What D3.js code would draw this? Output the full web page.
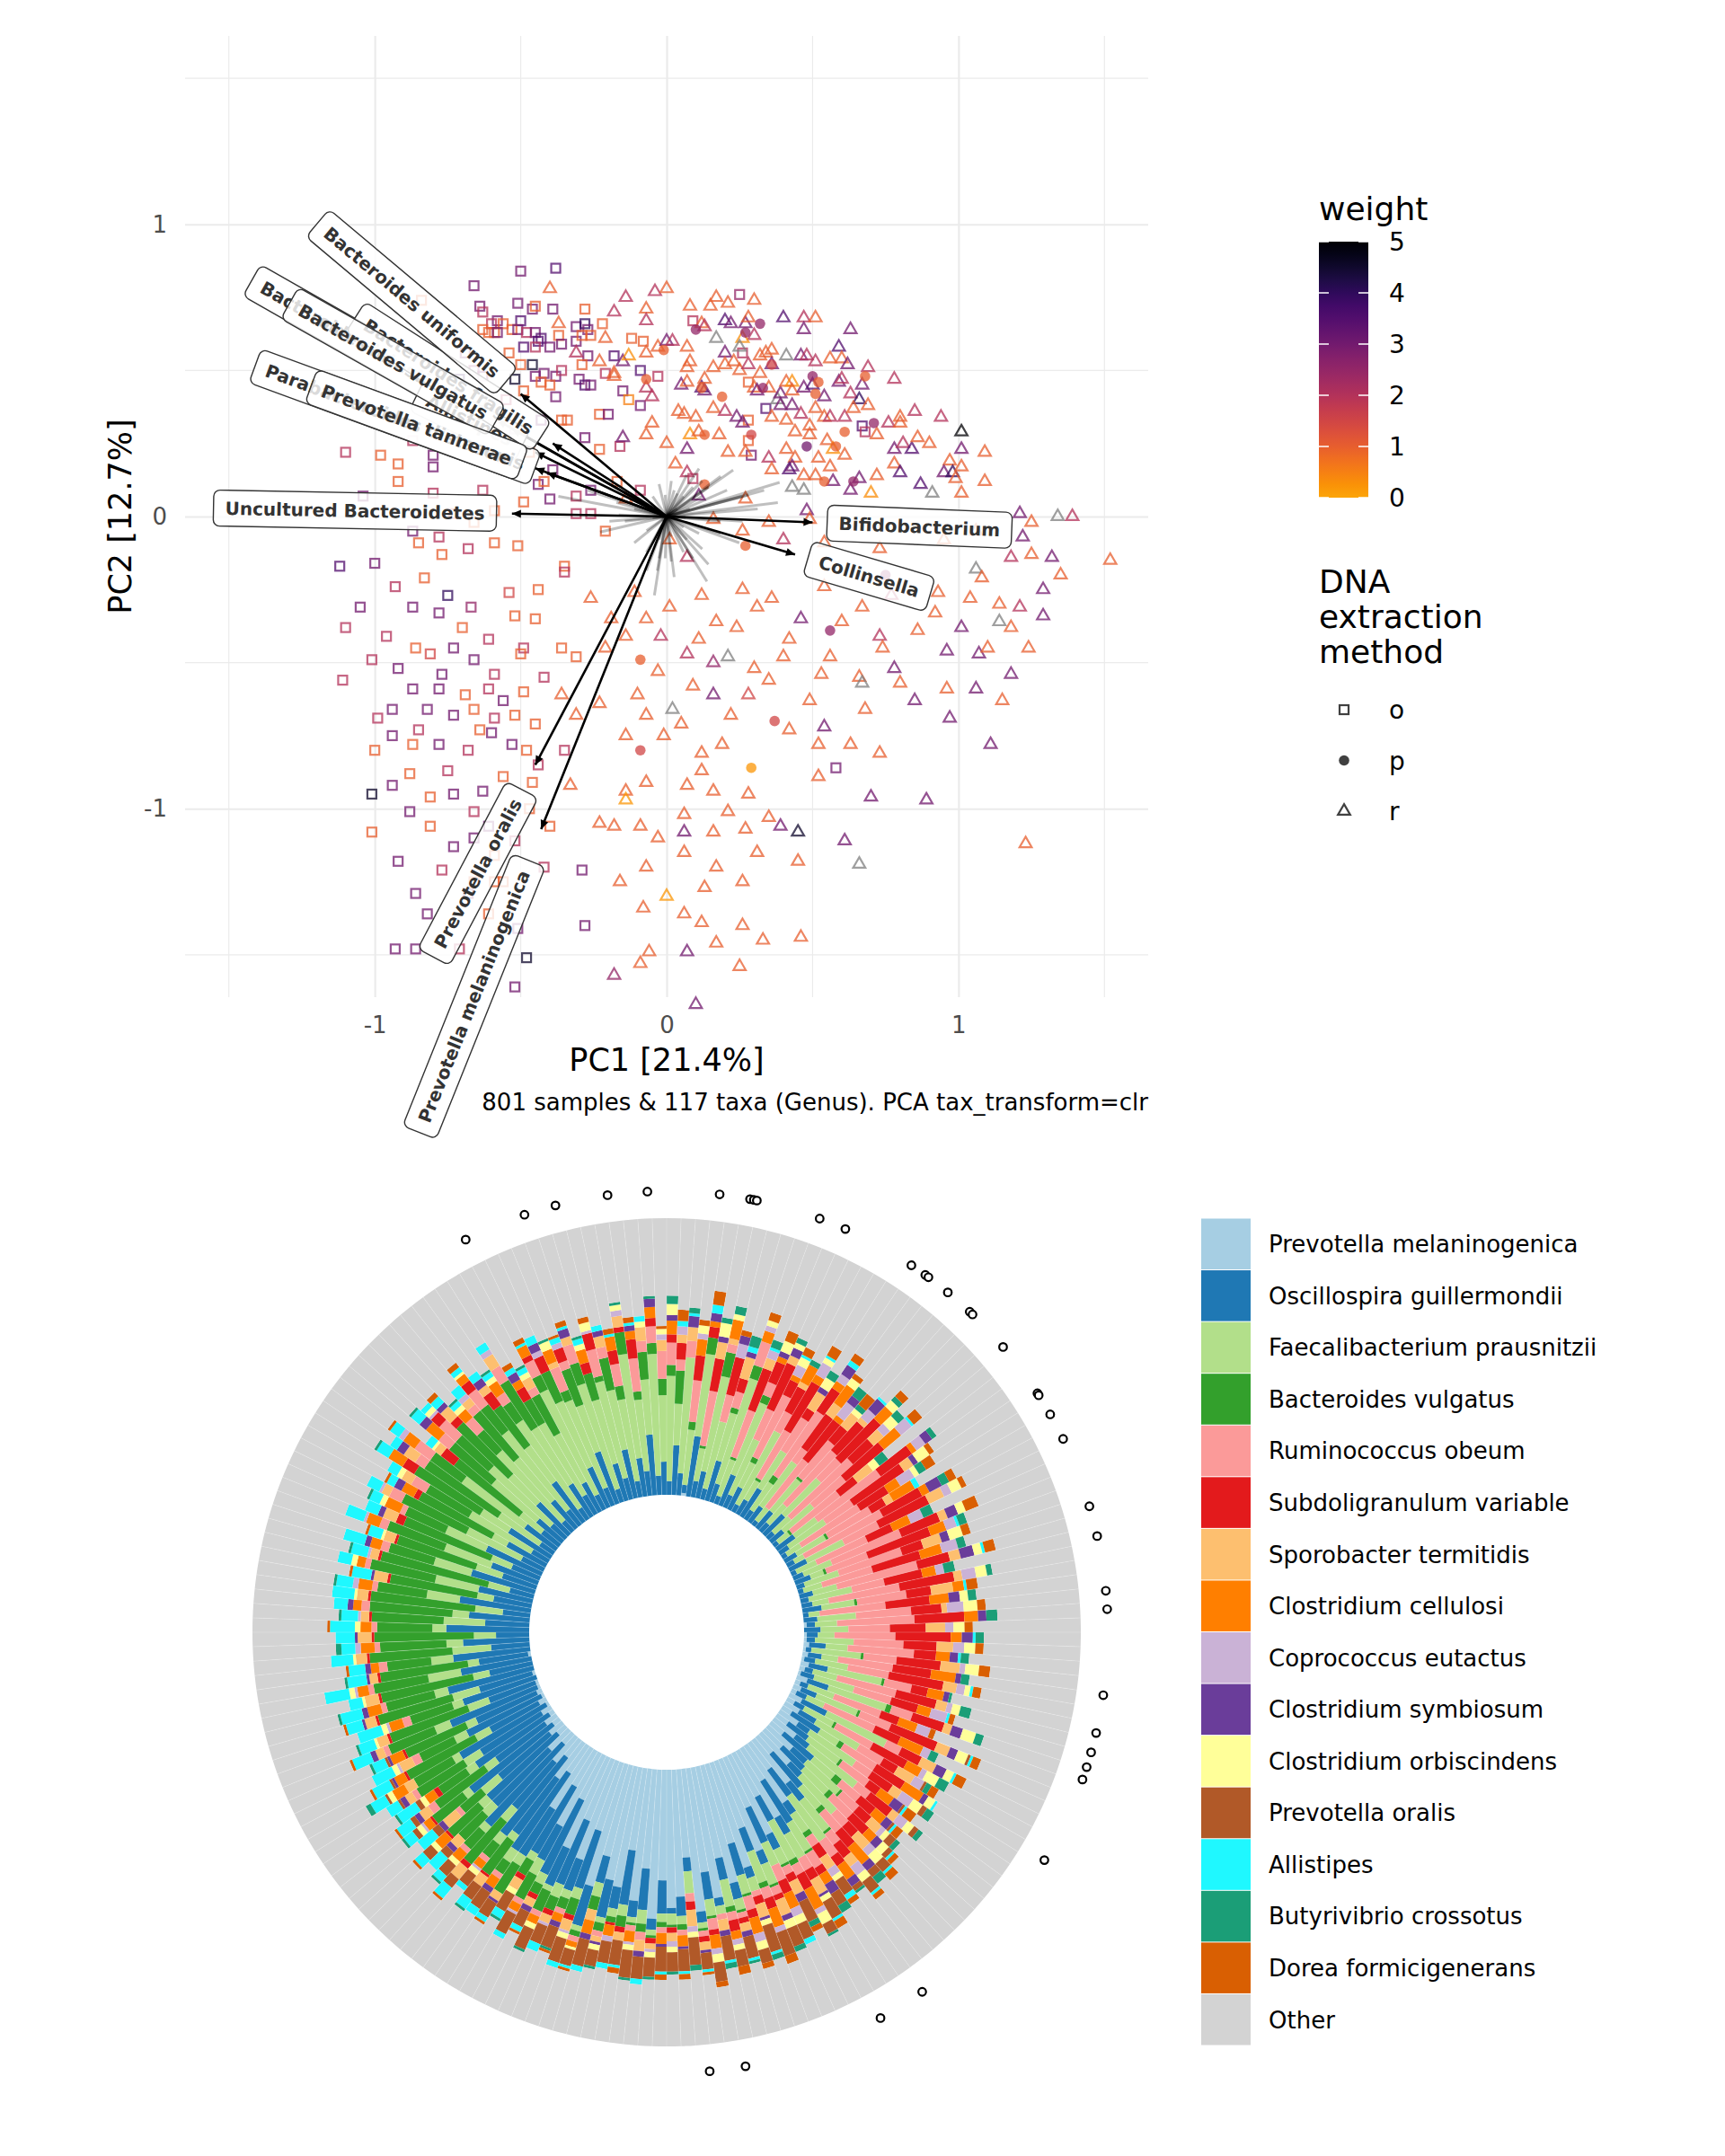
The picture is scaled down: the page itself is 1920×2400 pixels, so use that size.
<!DOCTYPE html>
<html>
<head>
<meta charset="utf-8">
<script src="https://cdn.jsdelivr.net/npm/d3@7"></script>
<style>
  body { margin: 0; background: #fff; }
  svg { display: block; font-family: "DejaVu Sans", sans-serif; }
</style>
</head>
<body>
<div id="vis-container"></div>
<script>

////////////////////////////////////
/////////////// Data ///////////////
////////////////////////////////////

// PCA sample scores (PC1 x100, PC2 x100, weight), one array per DNA extraction method
const squaresO = [
  // upper left
  [-50,84,3],[-38,85,3.5],[-66,79,3],[-64,72,3],[-63,70,2],[-51,73,3],[-46,71,3],[-45,72,1],[-39,71,3],[-28,71,1],
  [-50,67,3.5],[-58,67,3],[-56,66,1],[-60,66,2],[-31,65,3],[-28,66,4],[-27,64,3],[-22,66,1],
  [-63,64,1],[-61,63,1],[-59,63,1],[-58,63,3],[-53,64,1],[-51,64,3],[-48,63,2],[-45,63,3],[-43,61,3.5],[-44,60,3.5],
  [-40,58,3],[-37,62,1],[-36,59,3],[-31,60,3],[-29,62,1],[-26,62,1],
  [-12,61,1],[-8,60,1],[-27,55,3],[-18,55,3.5],[-9,50,3.5],[-3,48,2],[-15,43,3],[-13,40,0.5],[-9,38,3],
  [-49,58,3.5],[-45,58,2],[-54,56,1],[-50,52,1],[-46,52,4.5],[-45,48,3],[-42,49,3],[-38,48,3],[-36,50,2],[-30,47,3],
  [-28,45,3.5],[-26,45,3],[-29,52,1],[-21,49,2],
  [-43,46,1],[-40,45,1],[-38,41,3],[-49,43,1],[-52,47,4.5],[-23,35,1],[-20,35,3],[-36,33,1],[-34,33,1],[-28,27,3],
  [-23,23,1],[-16,24,2],[-80,21,3],[-80,17,3],[-87,26,2],[-92,18,1],[-39,16,3],
  [-69,56,3],[-71,47,4],[-63,48,3],[-68,38,3],[-61,35,3],[-66,31,1],[-61,26,2],[-66,50,2.5],[-84,74,1],[-78,44,3],
  [-72,30,1],[-55,40,2],[-52,30,3],[-47,22,1],[-56,20,2],[-43,33,3],
  [-110,22,2],[-98,21,1],
  // upper right
  [25,76,2.5],[9,67,2],[26,56,2],[28,46,1],[34,37,3.5],[28,33,1],[67,31,3.5],[68,29,2],[28,26,1],[29,21,3],[9,13,2],
  // middle and lower
  [-63,9,2],[-44,11,3],[-31,7,2],[-104,7,3],[-26,1,2],[-21,-5,1],
  [-42,12,1],[-26,9,3],[-17,12,1],[-9,9,2],[-49,5,1],[-40,6,3],[-31,1,2],[-59,2,1],
  [-92,12,1],[-80,8,2],[-73,1,1.5],[-87,-5,3],[-78,-7,2],[-66,-2,1],
  [-112,-17,3.5],[-100,-16,3],[-85,-9,1],[-77,-13,1],[-68,-11,2],[-59,-9,1],[-51,-10,1],[-35,-17,1],
  [-93,-24,2],[-83,-21,1],[-75,-27,4],[-67,-31,2.5],[-54,-26,1.5],[-44,-25,1],[-35,-19,2],
  [-110,-38,2],[-87,-31,3],[-78,-33,3],[-70,-38,1],[-61,-42,2],[-52,-34,1],[-45,-35,1],[-36,-45,1],
  [-49,-45,2],[-101,-49,2],[-92,-52,3],[-81,-47,1.5],[-73,-45,3],[-66,-49,3],[-59,-54,2],[-50,-47,1],[-42,-55,2],[-31,-48,1],
  [-111,-56,2],[-87,-59,3],[-78,-59,3],[-61,-59,2],[-49,-60,1],
  [-99,-69,2],[-82,-66,3],[-73,-68,3],[-66,-66,1],[-59,-69,2],[-45,-71,1],
  [-100,-80,1],[-94,-75,3],[-87,-78,1],[-78,-78,3],[-68,-80,2],[-60,-74,3],[-48,-80,1],
  [58,-86,3],
  [-101,-95,4.5],[-88,-88,1],[-75,-87,2],[-63,-94,3],[-73,-95,3],[-66,-101,2],[-56,-89,1],[-46,-91,1],
  [-88,-101,3],[-81,-106,1],[-47,-100,1],[-101,-108,1],[-73,-113,3],[-66,-110,3],[-59,-116,1],[-52,-111,2],
  [-42,-120,2],[-29,-121,3],[-86,-129,3],[-68,-129,3],[-59,-125,1],[-51,-141,3],[-28,-140,3],[-48,-151,4.5],[-86,-148,3],[-52,-161,3],
  [-105,-31,3],[-96,-41,2],[-86,-45,1],[-77,-54,3],[-69,-61,1],[-56,-63,3],[-94,-66,3],[-85,-73,2],[-64,-73,1],[-53,-78,3],
  [-44,-85,2],[-94,-92,3],[-81,-96,1],[-61,-106,3],[-92,-118,3],[-77,-121,2],[-66,-125,1],[-82,-136,3],[-61,-136,1],[-93,-148,3],
  [-71,-148,2],[-56,-125,1],[-40,-106,1],[-35,-80,2],[-52,-68,1]
]

const circlesP = [
  [10,64,2.5],[32,66,2.5],[27,63,2.5],[-1,57,1],[36,52,1.5],[12,44,1],[19,41,1],[33,44,2.5],[50,48,2.5],[52,46,1],
  [51,42,1],[68,48,1],[71,32,2.5],[13,28,1],[29,28,1.5],[61,29,1],[58,24,1],[48,24,3],[64,12,2.5],[54,12,1],[13,11,1],[-7,47,1],
  [27,-10,1],[75,-20,2.5],[56,-39,2.5],[-9,-49,1],[37,-70,1.5],[-9,-80,1.5],[29,-86,0.2]
]

const trianglesR = [
  // upper left
  [-40,78,1],[-37,66,1],[-18,70,2],[-14,75,2],[-7,71,1],[-7,67,2],[-4,77,2],[-21,61,1],[-23,53,1],[-18,49,1],
  [-7,56,1],[-3,58,1],[-31,56,2],[-15,53,3],[-13,55,0.3],[-7,44,2],[-5,41,2],[-18,48,1],[-15,27,3],[-7,28,1],[-5,32,1],[-14,6,1],
  // upper right
  [0,78,1],[8,72,1],[17,75,1],[15,72,1],[21,73,1],[30,74,1],[12,66,1],[13,65,2],[20,67,3.5],[22,66,3],[27,66,3],[28,68,1],
  [30,62,2],[40,68,3.5],[47,68,2],[51,68,1],[47,64,3],[63,64,3],
  [0,60,3],[2,60,2],[7,58,1],[17,61,null],[26,61,0.3],[25,58,null],[20,56,3],[32,55,1],[34,56,1],[36,57,1],[41,55,null],
  [46,55,3],[48,55,2],[59,58,3.5],[56,54,1],[60,54,1],[62,52,3],[69,51,2],[51,53,2],[36,52,3],
  [8,53,1],[7,51,1],[16,51,1],[20,52,1],[25,50,1],[28,52,2],[23,53,1],[32,49,1],
  [5,45,3],[7,46,1],[12,44,3.5],[13,43,3],[13,47,1],[30,44,1],[31,43,3],[35,44,1],[38,40,null],[39,42,3],[41,46,1],[43,46,0.3],
  [43,43,1],[43,38,3],[47,44,3],[50,45,3.5],[54,41,3],[59,46,3],[60,47,2],[63,42,2],[67,45,3],[66,40,4],[78,47,2],[85,36,2],[94,34,2],[101,29,5],
  [39,38,3],[4,36,1],[6,35,1],[10,34,1],[16,37,1],[20,36,2],[24,34,3],[26,32,3],[36,34,1],[41,33,1],[46,35,2],[49,31,1],
  [51,37,1],[54,34,1],[56,34,2],[61,34,2],[64,37,1],[69,38,1],[72,28,1],[76,32,2],[80,34,1],[80,32,1],
  [8,28,0.3],[11,29,1],[18,28,1],[44,29,1],[49,28,1],[55,26,1],[57,23,0.3],
  [0,25,1],[7,23,3],[3,18,1],[21,22,1],[27,22,1],[35,20,2],[41,23,1],[44,20,1],[43,17,3],[42,16,3.5],[36,16,1],[52,20,1],
  [56,17,1],[61,21,1],[78,23,3],[81,25,2],[84,23,3.5],[86,27,1],[90,25,1],[97,19,1],[101,23,3],[109,22,1],
  [78,18,1],[80,15,3.5],[95,15,3],[98,15,4],[99,13,1],[101,17,1],[109,12,1],[87,11,3.5],[72,14,1],[66,13,3],[63,9,3],
  [57,12,3],[51,14,1],[47,14,1],[70,8,0.3],[101,8,1],[91,8,null],[43,10,null],[47,9,null],
  [7,15,2],[11,7,3],[27,6,1],[48,2,3],[121,1,3],[134,0,null],[139,0,2],
  // lower half
  [16,-1,1],[26,-5,1],[35,-2,1],[49,-1,1],[125,-2,1],[106,-5,1],
  [40,-8,2],[54,-9,1],[73,-11,1],[95,-8,1],[106,-18,null],[118,-14,2],[125,-13,1],[132,-14,3],[152,-15,1],[1,-8,1],[7,-14,2],
  [-26,-28,1],[1,-31,1],[12,-27,1],[26,-25,1],[36,-28,1],[54,-24,1],[67,-31,1],[77,-27,2],[93,-26,1],[104,-28,1],[114,-30,1],[121,-31,2],[129,-25,3],[108,-21,1],
  [-14,-41,1],[-7,-35,1],[11,-42,1],[24,-38,1],[42,-42,1],[60,-36,1],[73,-41,2],[86,-39,1],[96,-46,3],[107,-47,3],[118,-38,1],[114,-36,null],
  [-21,-45,1],[-3,-53,1],[7,-47,2],[16,-50,2.5],[21,-48,null],[30,-52,1],[40,-48,1],[53,-54,1],[66,-55,1],[74,-45,1],[78,-52,3],[67,-57,null],[118,-54,3],
  [-36,-61,1],[-23,-64,1],[-10,-61,1],[2,-66,null],[9,-58,1],[16,-61,3],[28,-61,1.5],[49,-63,1],[68,-66,1],[85,-63,3],[97,-69,3],[80,-57,1],[-31,-68,1],[5,-71,1],
  [-1,-75,1],[12,-81,1],[19,-78,1],[52,-78,1],[111,-78,3],
  [-33,-92,1],[-14,-94,1],[-7,-91,1],[7,-92,1],[16,-94,1],[28,-95,1],[52,-89,1],[70,-96,3],[89,-97,3],[6,-102,1],[-14,-97,0.2],
  [-23,-105,1],[-18,-106,1],[-9,-106,1],[6,-108,3],[16,-108,1],[27,-107,1],[39,-106,3],[45,-108,4.5],[61,-111,3],[66,-119,null],[123,-112,1],[6,-115,1],[17,-120,1],[31,-115,1],[45,-118,1],[-16,-125,1],
  [-8,-134,1],[0,-130,0.2],[6,-136,1],[12,-139,1],[17,-146,1],[26,-140,1],[33,-145,1],[46,-144,1],[7,-149,3],[-18,-157,2.5],[-9,-153,1],[-6,-149,1],[25,-154,1],[10,-167,3],
  [122,-7,3],[135,-20,1],[129,-34,3],[124,-45,1],[101,-38,3],[92,-33,1],[110,-45,1],[115,-63,1],[96,-59,1],[106,-59,3],
  [-19,-35,1],[-11,-26,1],[-2,-41,2],[17,-36,1],[31,-31,1],[46,-35,3],[56,-48,1],[35,-56,1],[22,-68,1],[42,-73,1],[54,-72,3],
  [63,-78,1],[73,-81,1],[-7,-68,1],[-14,-75,1],[12,-87,1],[21,-101,1],[35,-103,1],[-3,-110,1],[13,-127,1],[26,-125,1],[-7,-120,1]
]

// labelled taxa loadings
const loadingTaxa = ["Bacteroides intestinalis", "Allistipes", "Parabacteroides distasonis", "Bacteroides fragilis",
  "Bacteroides vulgatus", "Prevotella tannerae", "Bacteroides uniformis", "Uncultured Bacteroidetes",
  "Bifidobacterium", "Collinsella", "Prevotella oralis", "Prevotella melaninogenica"]
const loadingPC1 = [-0.58, -0.45, -0.41, -0.39, -0.53, -0.45, -0.50, -0.53, 0.50, 0.44, -0.45, -0.43]
const loadingPC2 = [0.33, 0.22, 0.15, 0.25, 0.30, 0.165, 0.42, 0.01, -0.02, -0.13, -0.85, -1.07]

// other (unlabelled) taxa loadings
const grayPC1 = [0.228,0.185,0.387,0.381,0.334,0.281,0.26,0.122,0.143,0.09,0.058,0.026,0.249,0.122,0.058,-0.042,-0.032,0.016,-0.005,0.138,
  0.09,0.058,-0.371,-0.228,-0.111,-0.27,-0.172,-0.09,-0.048,-0.005,0.037,0.312,0.185,0.111,0.069,-0.069,-0.143,-0.026,0.016,-0.069,
  0.026,-0.111,0.079,0.122,0.207,0.111,0.069,-0.026,0.016,-0.196,-0.164,0.037,-0.016,-0.048,0.26,0.185,0.143,-0.026,-0.069]
const grayPC2 = [0.159,0.138,0.117,0.048,0.09,0.074,0.069,0.122,0.101,0.101,0.069,0.09,-0.09,-0.111,-0.037,-0.27,-0.185,-0.154,-0.143,-0.222,
  -0.143,-0.122,0.069,-0.053,-0.09,0.09,0.048,0.037,0.069,0.074,0.079,0.026,-0.016,-0.058,-0.079,-0.048,-0.016,-0.079,-0.069,-0.122,
  -0.207,0.026,0.026,0.069,0.09,0.164,0.143,0.111,0.122,-0.016,0.005,0.026,-0.016,-0.005,-0.016,-0.058,-0.164,-0.143,-0.185]

const weightTicks = [0, 1, 2, 3, 4, 5]
const methods = ["o", "p", "r"]

// composition (% abundance) per sample group, ordered clockwise around the circle from the top
const taxaNames = ["Prevotella melaninogenica", "Oscillospira guillermondii", "Faecalibacterium prausnitzii",
  "Bacteroides vulgatus", "Ruminococcus obeum", "Subdoligranulum variable", "Sporobacter termitidis",
  "Clostridium cellulosi", "Coprococcus eutactus", "Clostridium symbiosum", "Clostridium orbiscindens",
  "Prevotella oralis", "Allistipes", "Butyrivibrio crossotus", "Dorea formicigenerans", "Other"]
const taxaColors = ["#A6CEE3", "#1F78B4", "#B2DF8A", "#33A02C", "#FB9A99", "#E31A1C", "#FDBF6F", "#FF7F00",
  "#CAB2D6", "#6A3D9A", "#FFFF99", "#B15928", "#1FF8FF", "#1B9E77", "#D95F02", "#D3D3D3"]

const sampleComp = [
  [0,5,38,4,8,3,0,5,0,2,4,0,0,3,0],[0,18,15,12,4,6,3,0,3,0,0,0,2,0,4],[0,8,42,0,6,0,5,0,0,4,0,0,1,2,0],[1,3,20,3,15,9,0,6,2,0,3,0,0,0,2],
  [0,22,30,6,0,4,0,2,0,3,0,0,3,0,5],[0,6,12,1,20,12,6,0,0,2,5,0,0,2,0],[0,10,35,9,3,0,2,7,0,0,2,0,0,3,0],[0,4,25,0,10,14,0,0,5,3,0,0,0,0,2],
  [0,15,18,2,6,5,8,0,0,2,0,0,2,4,0],[0,7,40,5,9,0,0,4,2,0,2,0,0,0,3],[0,3,14,1,18,16,4,0,3,0,0,0,1,3,0],[0,12,28,3,5,8,0,2,0,2,4,0,0,0,4],
  [0,5,22,0,12,18,3,0,0,3,2,0,0,2,0],[0,9,10,2,25,6,0,2,4,0,3,0,1,0,3],[0,3,30,0,8,10,2,7,0,0,0,0,0,2,0],[0,6,8,1,20,20,0,3,5,0,2,0,1,0,4],
  [0,12,16,0,14,4,7,0,0,2,4,0,0,3,0],[0,4,12,3,28,10,0,3,3,4,0,0,2,0,3],[0,7,20,0,6,15,5,8,0,0,3,0,0,0,2],[0,2,6,0,22,18,0,2,6,3,0,0,0,4,0],
  [0,8,15,1,17,7,6,0,0,0,2,0,0,2,5],[0,4,9,0,26,14,2,0,4,5,0,0,1,0,0],[0,10,18,0,10,20,0,6,0,0,3,0,0,2,3],[0,3,8,0,30,10,5,0,3,0,4,0,0,3,0],
  [0,6,14,0,15,18,0,8,5,0,0,0,1,0,4],[0,2,5,1,22,8,7,0,0,0,3,0,0,4,0],[0,8,10,0,28,14,0,2,4,3,0,0,0,2,0],[0,4,16,0,12,22,4,0,0,2,5,0,0,0,2],
  [0,2,6,0,25,12,0,5,6,0,2,0,0,3,4],[0,5,12,1,18,6,3,9,0,0,0,0,2,0,0],[0,3,4,0,32,16,0,3,0,5,0,0,0,3,3],[0,7,15,0,14,20,6,0,3,0,4,0,0,0,2],
  [0,2,8,0,20,10,0,7,5,0,0,0,0,4,0],[0,4,11,0,27,15,3,0,0,4,3,0,0,0,5],[0,6,5,1,16,24,0,6,4,0,0,0,1,3,0],[0,3,13,0,24,8,7,0,0,3,5,0,0,0,3],
  [0,2,7,0,19,18,0,8,6,0,0,0,0,3,0],[0,5,9,0,30,12,4,0,0,5,3,0,1,0,4],[0,3,16,0,12,14,0,5,3,0,0,0,0,4,0],[0,4,6,0,26,20,3,0,5,0,4,0,0,2,0],
  [0,7,12,1,18,9,8,4,0,0,0,0,1,0,4],[0,2,4,0,24,16,0,7,0,4,3,0,0,3,0],[0,5,14,0,20,11,2,0,6,0,5,0,0,0,3],[1,3,8,0,28,18,0,5,0,3,0,0,0,4,0],
  [0,6,10,0,15,13,7,0,3,0,4,0,0,0,3],[1,4,6,0,22,20,0,4,0,4,0,0,1,3,0],[1,3,14,0,18,12,6,0,4,0,4,0,0,0,3],[2,6,8,0,24,8,0,5,0,3,0,0,1,3,0],
  [1,2,18,1,12,16,7,0,2,0,5,0,0,0,4],[2,5,6,0,20,14,0,9,0,2,0,0,0,3,0],[1,4,12,0,15,20,5,0,3,0,2,0,1,0,3],[3,7,20,1,10,6,0,6,0,2,0,0,0,1,0],
  [2,3,9,0,22,15,4,0,2,0,3,0,0,4,0],[1,5,15,0,14,10,0,5,6,0,0,0,1,0,2],[4,8,22,2,8,12,3,0,0,4,5,0,0,3,0],[2,3,10,0,18,7,0,7,5,0,0,0,0,0,2],
  [3,6,16,1,12,18,5,0,0,3,4,1,1,0,3],[2,4,7,0,20,10,0,9,3,0,0,0,0,3,0],[5,10,24,0,6,8,6,0,0,4,3,0,1,0,4],[3,4,12,1,15,14,0,6,2,0,5,0,0,4,0],
  [6,7,18,0,10,6,7,0,4,0,0,1,0,2,3],[4,12,8,2,14,12,0,8,0,2,3,0,1,0,0],[8,5,20,0,7,9,4,0,5,0,4,2,0,3,0],[5,9,14,1,12,5,0,6,0,4,0,1,1,0,4],
  [10,6,22,0,6,10,3,0,4,0,3,2,0,2,0],[6,14,10,3,9,7,0,5,0,3,0,1,1,0,3],[12,7,16,1,8,6,5,0,2,0,2,3,0,2,0],[9,11,12,2,10,8,0,4,0,3,3,2,1,0,2],
  [15,6,18,0,6,5,6,0,3,0,4,4,1,0,3],[8,16,10,2,9,7,0,8,0,3,0,3,0,3,0],[20,8,14,1,5,6,4,0,4,0,3,5,1,0,2],[12,12,20,0,7,4,0,6,0,3,0,2,0,1,0],
  [25,5,8,2,4,5,5,0,3,0,2,6,2,0,2],[14,18,12,1,6,3,0,4,0,4,0,5,0,3,0],[28,7,10,0,5,4,6,0,0,1,2,7,1,0,3],[18,10,16,2,4,6,0,8,2,0,4,4,0,1,0],
  [32,6,6,1,3,3,5,0,0,3,0,8,0,2,2],[20,14,9,0,6,5,0,6,3,0,3,6,2,0,0],[36,5,8,1,3,2,6,0,0,2,3,7,0,2,0],[26,9,12,2,4,4,0,7,2,0,0,9,0,0,3],
  [40,4,5,0,2,3,5,0,0,1,2,10,1,2,0],[30,12,7,1,5,3,0,6,3,0,3,5,0,0,2],[44,6,4,1,2,2,3,0,0,2,0,8,1,1,0],[34,8,10,2,3,4,0,3,2,0,2,6,0,0,3],
  [48,3,3,0,2,0,4,0,0,2,0,9,1,2,0],[38,10,6,1,4,2,0,5,2,0,3,7,0,0,2],[52,4,2,1,2,2,3,0,0,1,0,6,1,0,1],[32,5,8,0,3,3,6,0,2,0,2,10,0,2,0],
  [46,7,3,2,2,0,0,4,0,1,0,8,1,0,2],[50,2,4,1,0,2,3,0,2,0,2,7,0,1,0],[40,12,3,2,2,0,0,4,0,1,0,9,1,0,2],[54,4,2,1,0,2,2,0,1,0,2,7,0,1,0],
  [36,15,5,3,3,0,4,0,0,2,0,8,2,0,0],[48,6,2,1,2,0,0,4,1,0,2,10,0,1,0],[30,20,4,4,0,2,3,0,0,0,0,9,1,0,2],[44,8,3,2,0,1,0,4,2,0,0,8,2,0,0],
  [42,14,2,3,2,0,2,0,0,1,2,6,0,1,0],[34,10,5,5,0,0,4,5,0,2,0,10,2,0,0],[46,15,2,2,2,0,0,2,0,0,1,6,1,0,1],[26,22,4,6,0,2,4,0,1,0,2,9,2,0,0],
  [38,12,3,4,2,0,0,3,0,2,0,8,0,1,1],[24,25,5,5,0,2,3,0,1,0,0,7,3,0,0],[36,15,2,8,2,0,0,3,0,0,2,8,0,1,0],[18,30,4,4,0,2,3,0,0,2,0,6,2,0,1],
  [30,14,6,10,2,0,0,3,1,0,0,8,2,0,0],[15,28,3,6,0,2,4,0,0,0,2,7,3,1,0],[26,20,4,12,0,0,3,0,0,1,0,6,2,0,1],[12,34,5,5,2,0,0,4,0,2,0,7,3,0,0],
  [16,25,3,15,0,1,4,0,0,0,0,6,4,1,0],[8,36,4,6,2,0,0,3,1,0,2,5,2,0,0],[12,22,6,20,0,2,5,0,0,0,0,4,5,0,1],[5,40,3,8,2,0,0,4,0,0,2,5,3,1,0],
  [10,28,5,12,0,0,4,0,0,2,0,3,6,0,0],[4,34,4,15,0,1,0,5,0,0,2,4,4,0,1],[6,24,8,10,2,0,6,0,0,2,0,3,7,0,0],[3,38,3,14,0,1,0,3,1,0,2,2,4,1,0],
  [5,22,5,22,3,0,4,0,0,2,0,2,6,0,1],[2,32,4,12,0,2,0,4,0,0,2,2,8,1,0],[4,26,7,20,2,0,3,0,0,2,0,1,5,0,0],[1,36,3,16,0,0,4,5,0,0,2,1,6,2,0],
  [3,20,6,28,0,1,0,4,0,1,0,1,7,0,1],[1,30,5,14,3,0,5,0,1,0,2,0,8,0,0],[2,24,4,24,0,1,0,5,0,1,0,1,5,1,0],[1,34,6,18,2,0,3,0,0,2,0,0,7,0,1],
  [1,18,8,30,0,1,4,0,0,0,1,0,6,1,0],[0,28,4,16,3,0,0,5,1,0,2,0,9,0,0],[1,20,10,28,0,1,4,0,0,1,0,0,6,0,1],[0,32,5,18,2,0,0,5,0,2,0,0,8,1,0],
  [0,16,6,34,0,1,5,0,0,0,1,0,5,0,0],[0,26,12,20,2,0,0,4,1,0,2,0,9,0,0],[1,18,4,32,0,1,3,0,0,1,0,0,7,1,0],[0,28,8,16,3,0,0,3,0,2,0,0,6,0,1],
  [0,14,14,30,0,1,4,0,0,0,1,0,8,0,0],[0,24,6,24,2,0,0,5,2,0,0,0,5,2,0],[0,12,8,36,0,1,5,0,0,1,0,0,7,0,0],[0,30,5,20,2,0,0,4,0,0,2,0,9,0,1],
  [0,16,15,26,0,1,3,0,1,0,0,0,6,1,0],[0,22,6,30,3,0,0,3,0,2,0,0,5,0,0],[0,10,10,38,0,1,4,0,0,0,1,0,8,0,0],[0,26,12,18,2,0,0,5,2,0,0,0,6,1,0],
  [0,14,6,32,0,1,5,0,0,1,0,0,7,0,1],[0,20,16,24,2,0,0,3,0,0,2,0,5,0,0],[0,9,8,40,0,1,3,0,1,0,0,0,6,1,0],[0,24,14,17,3,0,0,4,0,2,0,0,8,0,0],
  [0,13,10,30,0,1,4,0,0,0,1,0,5,0,1],[0,18,18,22,3,0,0,5,1,0,0,0,7,0,0],[0,11,8,34,0,3,5,0,0,2,0,0,5,0,0],[0,22,16,16,2,0,0,6,0,0,2,0,4,1,0],
  [0,9,22,26,5,0,3,0,1,0,0,0,5,0,0],[0,16,6,30,0,2,0,5,0,3,0,0,3,0,1],[0,7,26,18,6,0,4,0,0,0,2,0,4,0,0],[0,18,12,28,0,5,0,6,0,0,0,0,5,1,0],
  [0,6,18,32,4,0,5,0,0,3,0,0,3,0,0],[0,14,28,14,7,0,0,5,2,0,0,0,4,0,1],[0,8,10,30,0,6,3,0,0,0,1,0,3,0,0],[0,12,21,20,5,0,0,6,0,3,0,0,4,1,0],
  [0,7,30,16,8,4,0,0,1,0,2,0,2,0,0],[0,16,14,26,0,3,5,0,0,2,0,0,3,0,2],[0,5,34,10,6,0,0,4,0,0,2,0,2,1,0],[0,13,20,22,3,0,3,0,2,0,0,0,4,0,0],
  [0,7,36,12,7,4,0,3,0,0,1,0,2,0,2],[0,18,16,18,0,6,3,0,0,3,0,0,3,0,0],[0,5,38,8,4,0,0,5,0,0,2,0,2,1,0],[0,14,24,20,6,0,5,0,2,0,0,0,3,0,0],
  [0,8,30,10,0,5,0,3,0,3,0,0,2,0,2],[0,12,20,16,3,0,4,0,0,0,2,0,2,1,0],[0,6,42,6,6,2,0,4,0,0,0,0,1,0,2],[0,16,26,12,0,6,0,0,2,3,0,0,3,0,0],
  [0,7,34,4,9,0,2,5,0,0,3,0,0,1,0],[0,20,18,14,3,5,0,0,2,0,0,0,2,0,1],[0,5,40,8,7,0,3,0,0,3,0,0,1,0,2],[0,14,24,10,0,4,0,5,0,0,2,0,2,1,0],
  [0,8,36,2,10,6,0,0,1,0,3,0,0,0,2],[0,18,22,12,4,0,4,0,0,2,0,0,2,0,0],[0,6,30,5,8,5,0,5,0,0,0,0,1,0,2],[0,14,38,8,0,2,4,0,2,0,2,0,0,1,0],
  [0,9,26,3,12,7,0,3,0,2,0,0,1,0,2],[0,22,20,10,4,0,5,0,0,0,2,0,2,0,0],[0,7,44,4,6,3,0,4,0,3,0,0,0,1,0],[0,12,24,6,10,0,4,0,2,0,2,0,0,0,1]
]

// angular positions (degrees clockwise from top) of samples flagged by the binary annotation
const annoAngles = [332.9, 341.2, 345.4, 352.3, 357.5, 6.9, 10.9, 11.4, 11.8, 20.3, 23.9, 33.7, 35.9, 36.4, 39.6,
  43.4, 43.9, 49.7, 57.2, 57.5, 60.4, 64.0, 73.4, 77.4, 84.6, 87.0, 98.2, 103.2, 105.8, 107.8, 109.5, 121.1,
  144.6, 151.0, 169.7, 174.4]

////////////////////////////////////
///////////// SVG Setup ////////////
////////////////////////////////////

const svg = d3.select('#vis-container')
  .append('svg')
  .attr('width', 1920)
  .attr('height', 2400)

svg.append('defs').append('marker')
  .attr('id', 'arrowhead')
  .attr('viewBox', '0 0 10 10')
  .attr('refX', 10)
  .attr('refY', 5)
  .attr('markerWidth', 12)
  .attr('markerHeight', 10)
  .attr('markerUnits', 'userSpaceOnUse')
  .attr('orient', 'auto')
  .append('path')
  .attr('d', 'M0,0.5 L10,5 L0,9.5 Z')
  .attr('fill', '#000')

////////////////////////////////////
////////////// PCA plot ////////////
////////////////////////////////////

const panel = { left: 206, right: 1278, top: 40, bottom: 1110 }

const x = d3.scaleLinear().domain([-1.65, 1.65]).range([panel.left, panel.right])
const y = d3.scaleLinear().domain([-1.645, 1.645]).range([panel.bottom, panel.top])

const weightT = d3.scaleLinear().domain([0, 5]).range([0.8, 0])
const colour = w => w == null ? '#7F7F7F' : d3.interpolateInferno(weightT(w))

// minor grid
const minorBreaks = [-1.5, -0.5, 0.5, 1.5]
svg.append('g').selectAll('line').data(minorBreaks).join('line')
  .attr('x1', d => x(d)).attr('x2', d => x(d))
  .attr('y1', panel.top).attr('y2', panel.bottom)
  .attr('stroke', '#EBEBEB').attr('stroke-width', 1.2)
svg.append('g').selectAll('line').data(minorBreaks).join('line')
  .attr('y1', d => y(d)).attr('y2', d => y(d))
  .attr('x1', panel.left).attr('x2', panel.right)
  .attr('stroke', '#EBEBEB').attr('stroke-width', 1.2)

// axes with major grid
const xAxis = d3.axisBottom(x).tickValues([-1, 0, 1]).tickFormat(d => String(d))
  .tickSize(-(panel.bottom - panel.top)).tickPadding(22)
const yAxis = d3.axisLeft(y).tickValues([-1, 0, 1]).tickFormat(d => String(d))
  .tickSize(-(panel.right - panel.left)).tickPadding(20)

const gx = svg.append('g').attr('transform', `translate(0,${panel.bottom})`).call(xAxis)
const gy = svg.append('g').attr('transform', `translate(${panel.left},0)`).call(yAxis)
for (const g of [gx, gy]) {
  g.select('.domain').remove()
  g.selectAll('.tick line').attr('stroke', '#EBEBEB').attr('stroke-width', 2.2)
  g.selectAll('.tick text').attr('fill', '#4D4D4D').attr('font-size', 26).attr('font-family', 'DejaVu Sans')
}

// points
const pts = svg.append('g')
pts.selectAll('rect').data(squaresO).join('rect')
  .attr('x', d => x(d[0] / 100) - 5).attr('y', d => y(d[1] / 100) - 5)
  .attr('width', 10).attr('height', 10)
  .attr('fill', 'none').attr('stroke', d => colour(d[2]))
  .attr('stroke-width', 2.2).attr('stroke-opacity', 0.75)

const tri = d3.symbol(d3.symbolTriangle, 80)
pts.selectAll('path.tri').data(trianglesR).join('path')
  .attr('class', 'tri')
  .attr('d', tri)
  .attr('transform', d => `translate(${x(d[0] / 100)},${y(d[1] / 100)})`)
  .attr('fill', 'none').attr('stroke', d => colour(d[2]))
  .attr('stroke-width', 2.2).attr('stroke-opacity', 0.75)

pts.selectAll('circle').data(circlesP).join('circle')
  .attr('cx', d => x(d[0] / 100)).attr('cy', d => y(d[1] / 100))
  .attr('r', 5.8)
  .attr('fill', d => colour(d[2])).attr('fill-opacity', 0.75)

// unlabelled loading lines
svg.append('g').selectAll('line').data(grayPC1).join('line')
  .attr('x1', x(0)).attr('y1', y(0))
  .attr('x2', d => x(d)).attr('y2', (d, i) => y(grayPC2[i]))
  .attr('stroke', '#000').attr('stroke-opacity', 0.25).attr('stroke-width', 3)

// labelled loading arrows
svg.append('g').selectAll('line').data(loadingTaxa).join('line')
  .attr('x1', x(0)).attr('y1', y(0))
  .attr('x2', (d, i) => x(loadingPC1[i])).attr('y2', (d, i) => y(loadingPC2[i]))
  .attr('stroke', '#000').attr('stroke-width', 2.6)
  .attr('marker-end', 'url(#arrowhead)')

// loading labels, placed at 1.1 x loading, rotated along the arrow
const labG = svg.append('g')
loadingTaxa.forEach((name, i) => {
  const lx = x(loadingPC1[i] * 1.1), ly = y(loadingPC2[i] * 1.1)
  const dx = x(loadingPC1[i]) - x(0), dy = y(loadingPC2[i]) - y(0)
  let ang = Math.atan2(dy, dx) * 180 / Math.PI
  const left = dx < 0
  if (left) ang += 180
  const g = labG.append('g').attr('transform', `translate(${lx},${ly}) rotate(${ang})`)
  const rect = g.append('rect')
  const t = g.append('text').text(name)
    .attr('font-size', 20).attr('font-weight', 'bold').attr('fill', '#333')
    .attr('dy', '0.36em')
  const w = t.node().getComputedTextLength() + 26
  const x0 = left ? -w : 0
  t.attr('x', x0 + 13)
  rect.attr('x', x0).attr('y', -20).attr('width', w).attr('height', 40)
    .attr('rx', 7).attr('fill', '#fff').attr('fill-opacity', 0.82)
    .attr('stroke', '#333').attr('stroke-width', 1.4)
})

// titles
svg.append('text').attr('x', x(0)).attr('y', 1192).attr('text-anchor', 'middle')
  .attr('font-size', 35).text('PC1 [21.4%]')
svg.append('text').attr('transform', `translate(146,${y(0)}) rotate(-90)`).attr('text-anchor', 'middle')
  .attr('font-size', 35).text('PC2 [12.7%]')
svg.append('text').attr('x', panel.right).attr('y', 1236).attr('text-anchor', 'end')
  .attr('font-size', 26).text('801 samples & 117 taxa (Genus). PCA tax_transform=clr')

////////////////////////////////////
///////////// Legends //////////////
////////////////////////////////////

const lg = svg.append('g')
lg.append('text').attr('x', 1468).attr('y', 245).attr('font-size', 36).text('weight')

const barY = d3.scaleLinear().domain([0, 5]).range([554, 269])
const grad = svg.select('defs').append('linearGradient').attr('id', 'wgrad')
  .attr('x1', 0).attr('y1', 1).attr('x2', 0).attr('y2', 0)
grad.selectAll('stop').data(d3.range(0, 5.01, 0.25)).join('stop')
  .attr('offset', d => d / 5).attr('stop-color', d => colour(d))
lg.append('rect').attr('x', 1468).attr('y', barY(5)).attr('width', 55).attr('height', barY(0) - barY(5))
  .attr('fill', 'url(#wgrad)')
lg.selectAll('line.tk').data(weightTicks).join('line').attr('class', 'tk')
  .attr('x1', 1468).attr('x2', 1479).attr('y1', d => barY(d)).attr('y2', d => barY(d))
  .attr('stroke', '#fff').attr('stroke-width', 1.5)
lg.selectAll('line.tk2').data(weightTicks).join('line').attr('class', 'tk2')
  .attr('x1', 1512).attr('x2', 1523).attr('y1', d => barY(d)).attr('y2', d => barY(d))
  .attr('stroke', '#fff').attr('stroke-width', 1.5)
lg.selectAll('text.wl').data(weightTicks).join('text').attr('class', 'wl')
  .attr('x', 1546).attr('y', d => barY(d)).attr('dy', '0.36em')
  .attr('font-size', 28).text(d => d)

lg.selectAll('text.mt').data(['DNA', 'extraction', 'method']).join('text').attr('class', 'mt')
  .attr('x', 1468).attr('y', (d, i) => 660 + i * 39).attr('font-size', 36).text(d => d)

const keyY = d3.scalePoint().domain(methods).range([790, 903])
lg.append('rect').attr('x', 1496 - 5).attr('y', keyY('o') - 5).attr('width', 10).attr('height', 10)
  .attr('fill', 'none').attr('stroke', '#000').attr('stroke-opacity', 0.75).attr('stroke-width', 2.2)
lg.append('circle').attr('cx', 1496).attr('cy', keyY('p')).attr('r', 5.8)
  .attr('fill', '#000').attr('fill-opacity', 0.75)
lg.append('path').attr('d', tri).attr('transform', `translate(1496,${keyY('r')})`)
  .attr('fill', 'none').attr('stroke', '#000').attr('stroke-opacity', 0.75).attr('stroke-width', 2.2)
lg.selectAll('text.ml').data(methods).join('text').attr('class', 'ml')
  .attr('x', 1546).attr('y', d => keyY(d)).attr('dy', '0.36em')
  .attr('font-size', 28).text(d => d)

////////////////////////////////////
//////////// Iris plot /////////////
////////////////////////////////////

const cx = 742, cy = 1817
const iris = svg.append('g').attr('transform', `translate(${cx},${cy})`)

const rows = sampleComp.map(r => {
  const o = {}
  r.forEach((v, i) => { o[taxaNames[i]] = v })
  o.Other = 100 - d3.sum(r)
  return o
})
const series = d3.stack().keys(taxaNames)(rows)

const angle = d3.scaleBand().domain(d3.range(rows.length)).range([0, 2 * Math.PI])
const radius = d3.scaleLinear().domain([0, 100]).range([153, 461])
const arc = d3.arc()

iris.selectAll('g.layer').data(series).join('g')
  .attr('class', 'layer')
  .attr('fill', (d, i) => taxaColors[i])
  .selectAll('path')
  .data(d => d.map((s, i) => ({ s, i })).filter(e => e.s[1] > e.s[0]))
  .join('path')
  .attr('d', e => arc({
    innerRadius: radius(e.s[0]), outerRadius: radius(e.s[1]),
    startAngle: angle(e.i), endAngle: angle(e.i) + angle.bandwidth()
  }))

// faint separators between samples
iris.selectAll('line.sep').data(d3.range(rows.length)).join('line').attr('class', 'sep')
  .attr('x1', i => radius(0) * Math.sin(angle(i))).attr('y1', i => -radius(0) * Math.cos(angle(i)))
  .attr('x2', i => radius(100) * Math.sin(angle(i))).attr('y2', i => -radius(100) * Math.cos(angle(i)))
  .attr('stroke', '#fff').attr('stroke-opacity', 0.35).attr('stroke-width', 0.6)

// annotation rings
const rDot = 491
iris.selectAll('circle').data(annoAngles).join('circle')
  .attr('cx', d => rDot * Math.sin(d * Math.PI / 180))
  .attr('cy', d => -rDot * Math.cos(d * Math.PI / 180))
  .attr('r', 4.3).attr('fill', '#fff').attr('stroke', '#000').attr('stroke-width', 2.2)

// taxa legend
const keyRow = d3.scaleBand().domain(taxaNames).range([1356, 2277])
const tl = svg.append('g')
tl.selectAll('rect').data(taxaNames).join('rect')
  .attr('x', 1337).attr('y', d => keyRow(d) + 0.5)
  .attr('width', 55).attr('height', keyRow.bandwidth() - 1)
  .attr('fill', (d, i) => taxaColors[i])
tl.selectAll('text').data(taxaNames).join('text')
  .attr('x', 1412).attr('y', d => keyRow(d) + keyRow.bandwidth() / 2).attr('dy', '0.36em')
  .attr('font-size', 26).text(d => d)

</script>
</body>
</html>
